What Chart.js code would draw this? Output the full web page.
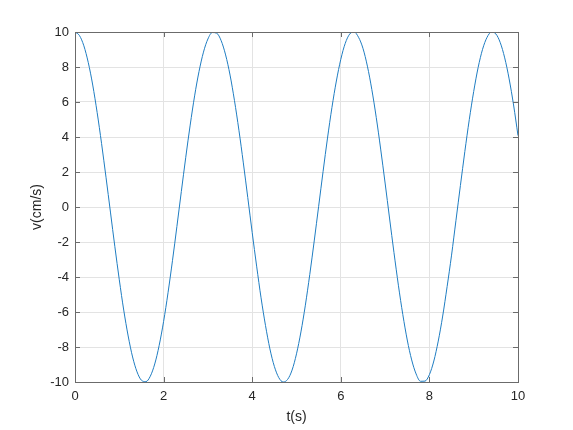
<!DOCTYPE html>
<html>
<head>
<meta charset="utf-8">
<script src="https://cdn.jsdelivr.net/npm/chart.js@4/dist/chart.umd.min.js"></script>
<style>
  html, body { margin: 0; padding: 0; background: #fff; }
  #wrap { width: 573px; height: 430px; }
</style>
</head>
<body>
<div id="wrap"><canvas id="c"></canvas></div>
<script>
// t(s), sampled every 0.1 s from 0 to 10
const times = [
  0.0, 0.1, 0.2, 0.3, 0.4, 0.5, 0.6, 0.7, 0.8, 0.9,
  1.0, 1.1, 1.2, 1.3, 1.4, 1.5, 1.6, 1.7, 1.8, 1.9,
  2.0, 2.1, 2.2, 2.3, 2.4, 2.5, 2.6, 2.7, 2.8, 2.9,
  3.0, 3.1, 3.2, 3.3, 3.4, 3.5, 3.6, 3.7, 3.8, 3.9,
  4.0, 4.1, 4.2, 4.3, 4.4, 4.5, 4.6, 4.7, 4.8, 4.9,
  5.0, 5.1, 5.2, 5.3, 5.4, 5.5, 5.6, 5.7, 5.8, 5.9,
  6.0, 6.1, 6.2, 6.3, 6.4, 6.5, 6.6, 6.7, 6.8, 6.9,
  7.0, 7.1, 7.2, 7.3, 7.4, 7.5, 7.6, 7.7, 7.8, 7.9,
  8.0, 8.1, 8.2, 8.3, 8.4, 8.5, 8.6, 8.7, 8.8, 8.9,
  9.0, 9.1, 9.2, 9.3, 9.4, 9.5, 9.6, 9.7, 9.8, 9.9,
  10.0
];
// v(cm/s)
const velocity = [
  10.00, 9.80, 9.21, 8.25, 6.97, 5.40, 3.62, 1.70, -0.29, -2.27,
  -4.16, -5.89, -7.37, -8.57, -9.42, -9.90, -9.98, -9.67, -8.97, -7.91,
  -6.54, -4.90, -3.07, -1.12, 0.88, 2.84, 4.68, 6.35, 7.75, 8.85,
  9.60, 9.97, 9.93, 9.50, 8.69, 7.54, 6.08, 4.39, 2.52, 0.54,
  -1.46, -3.38, -5.19, -6.77, -8.11, -9.11, -9.75, -10.00, -9.85, -9.32,
  -8.39, -7.14, -5.61, -3.85, -1.94, 0.04, 2.03, 3.94, 5.69, 7.20,
  8.44, 9.35, 9.88, 10.00, 9.70, 9.07, 8.05, 6.72, 5.12, 3.31,
  1.37, -0.63, -2.60, -4.47, -6.15, -7.60, -8.74, -9.54, -9.96, -9.95,
  -9.58, -8.80, -7.66, -6.23, -4.55, -2.75, -0.76, 1.23, 3.17, 4.99,
  6.60, 7.97, 9.01, 9.69, 9.99, 9.89, 9.39, 8.52, 7.32, 5.83,
  4.08
];
const xTicks = [0, 2, 4, 6, 8, 10];
const yTicks = [-10, -8, -6, -4, -2, 0, 2, 4, 6, 8, 10];

const axisColor = '#262626';
const font = { family: 'Liberation Sans, Arial, sans-serif', size: 13 };

// box round the plot with inward ticks, like matlab
const boxPlugin = {
  id: 'box',
  afterDraw(chart) {
    const {ctx, chartArea: a, scales: {x, y}} = chart;
    ctx.save();
    ctx.strokeStyle = '#6b6b6b';
    ctx.lineWidth = 1;
    ctx.beginPath();
    xTicks.forEach(v => {
      const px = Math.round(x.getPixelForValue(v)) + 0.5;
      ctx.moveTo(px, a.bottom); ctx.lineTo(px, a.bottom - 5);
      ctx.moveTo(px, a.top); ctx.lineTo(px, a.top + 5);
    });
    yTicks.forEach(v => {
      const py = Math.round(y.getPixelForValue(v)) + 0.5;
      ctx.moveTo(a.left, py); ctx.lineTo(a.left + 5, py);
      ctx.moveTo(a.right, py); ctx.lineTo(a.right - 5, py);
    });
    ctx.stroke();
    ctx.strokeRect(Math.round(a.left) + 0.5, Math.round(a.top) + 0.5,
      Math.round(a.right - a.left), Math.round(a.bottom - a.top));
    ctx.restore();
  }
};

new Chart(document.getElementById('c'), {
  type: 'line',
  data: {
    labels: times,
    datasets: [{
      data: times.map((t, i) => ({x: t, y: velocity[i]})),
      borderColor: '#1f7dc2',
      borderWidth: 1,
      pointRadius: 0,
      cubicInterpolationMode: 'monotone',
      fill: false
    }]
  },
  options: {
    responsive: true,
    maintainAspectRatio: false,
    animation: false,
    layout: { padding: { left: 0, top: 32, right: 55, bottom: 0 } },
    plugins: { legend: { display: false }, tooltip: { enabled: false } },
    scales: {
      x: {
        type: 'linear',
        min: 0, max: 10,
        afterFit: s => { s.height = 48; },
        afterBuildTicks: s => { s.ticks = xTicks.map(v => ({value: v})); },
        grid: { color: '#e3e3e3', drawTicks: false },
        border: { display: false },
        ticks: { color: axisColor, font, padding: 7, maxRotation: 0 },
        title: { display: true, text: 't(s)', color: axisColor, font: { ...font, size: 14 }, padding: { top: 0, bottom: 4 } }
      },
      y: {
        type: 'linear',
        min: -10, max: 10,
        afterFit: s => { s.width = 75; },
        afterBuildTicks: s => { s.ticks = yTicks.map(v => ({value: v})); },
        grid: { color: '#e3e3e3', drawTicks: false },
        border: { display: false },
        ticks: { color: axisColor, font, padding: 6 },
        title: { display: true, text: 'v(cm/s)', color: axisColor, font: { ...font, size: 14 }, padding: { top: 29, bottom: 0 } }
      }
    }
  },
  plugins: [boxPlugin]
});
</script>
</body>
</html>
